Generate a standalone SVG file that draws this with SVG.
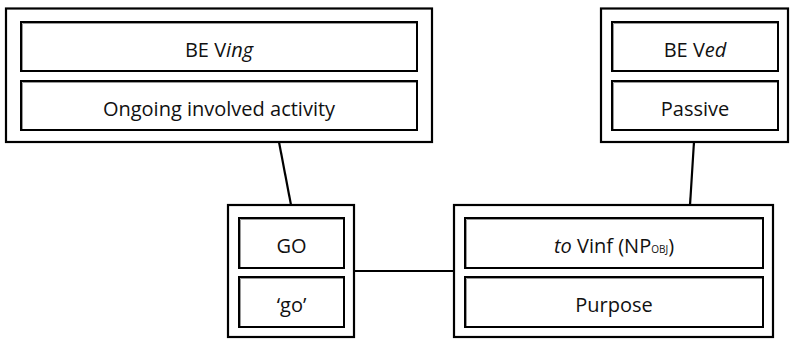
<svg xmlns="http://www.w3.org/2000/svg" width="794" height="339" viewBox="0 0 794 339">
<style>
.outer{fill:#fff;stroke:#000;stroke-width:2.2}
.inner{fill:#fff;stroke:#000;stroke-width:2}
.sh{fill:none;stroke:#9a9a9a;stroke-width:1}
.t{font-family:"Open Sans","Noto Sans",sans-serif;font-size:20px;fill:#111;text-anchor:middle}
.conn{stroke:#000;stroke-width:2.2;fill:none}
</style>
<rect width="794" height="339" fill="#fff"/>
<g id="connectors">
<line class="conn" x1="279" y1="142" x2="291" y2="205"/>
<line class="conn" x1="694" y1="142" x2="690" y2="205"/>
<line class="conn" x1="354" y1="271" x2="454" y2="271"/>
</g>
<g id="be-ving">
<rect class="outer" x="6" y="8.5" width="426" height="133.5"/>
<rect class="inner" x="21" y="22" width="396" height="49"/>
<path class="sh" d="M22.5 70 V23.5 H416"/>
<text class="t" x="219" y="56.5">BE V<tspan font-style="italic">ing</tspan></text>
<rect class="inner" x="21" y="81" width="396" height="49"/>
<path class="sh" d="M22.5 129 V82.5 H416"/>
<text class="t" x="219" y="116">Ongoing involved activity</text>
</g>
<g id="be-ved">
<rect class="outer" x="601" y="8.5" width="187" height="133.5"/>
<rect class="inner" x="612" y="22" width="166" height="49"/>
<path class="sh" d="M613.5 70 V23.5 H777"/>
<text class="t" x="695" y="56.5">BE V<tspan font-style="italic">ed</tspan></text>
<rect class="inner" x="612" y="81" width="166" height="49"/>
<path class="sh" d="M613.5 129 V82.5 H777"/>
<text class="t" x="695" y="116">Passive</text>
</g>
<g id="go">
<rect class="outer" x="228" y="205" width="126" height="132"/>
<rect class="inner" x="239" y="218" width="105" height="50"/>
<path class="sh" d="M240.5 267 V219.5 H343"/>
<text class="t" x="291.5" y="253">GO</text>
<rect class="inner" x="239" y="277" width="105" height="50"/>
<path class="sh" d="M240.5 326 V278.5 H343"/>
<text class="t" x="291.5" y="312">‘go’</text>
</g>
<g id="to-vinf">
<rect class="outer" x="454" y="205" width="319" height="132"/>
<rect class="inner" x="465" y="218" width="298" height="50"/>
<path class="sh" d="M466.5 267 V219.5 H762"/>
<text class="t" x="614" y="253"><tspan font-style="italic">to</tspan> Vinf (NP<tspan font-size="10">OBJ</tspan>)</text>
<rect class="inner" x="465" y="277" width="298" height="50"/>
<path class="sh" d="M466.5 326 V278.5 H762"/>
<text class="t" x="614" y="312">Purpose</text>
</g>
</svg>
